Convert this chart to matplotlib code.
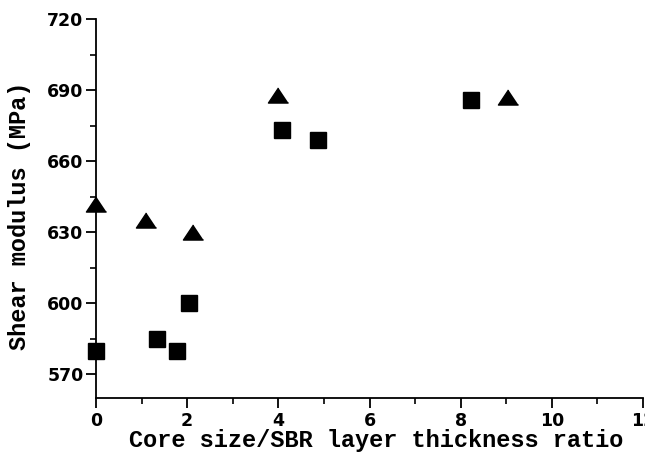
import matplotlib
matplotlib.use("Agg")
import matplotlib.pyplot as plt
from matplotlib.ticker import MultipleLocator

# Shear modulus versus core size / SBR layer thickness ratio
tri_x = [0.0, 1.09, 2.13, 4.0, 9.04]
tri_y = [642, 635, 630, 688, 687]
sq_x = [0.0, 1.33, 1.77, 2.03, 4.07, 4.86, 8.23]
sq_y = [580, 585, 580, 600, 673, 669, 686]

x_ticks = [0, 2, 4, 6, 8, 10, 12]
y_ticks = [570, 600, 630, 660, 690, 720]

fig = plt.figure(figsize=(6.45, 4.53), dpi=100)
ax = fig.add_axes([96 / 645, 1 - 398 / 453, 547 / 645, (398 - 19) / 453])

flat_tri = [(0, 0.75), (-1, -0.75), (1, -0.75)]
ax.plot(sq_x, sq_y, linestyle="none", marker="s", markersize=11.5,
        color="black", clip_on=False)
ax.plot(tri_x, tri_y, linestyle="none", marker=flat_tri, markersize=14.5,
        color="black", clip_on=False)

ax.set_xlim(0, 12)
ax.set_ylim(560, 720)
ax.set_xticks(x_ticks)
ax.set_yticks(y_ticks)
ax.xaxis.set_minor_locator(MultipleLocator(1))
ax.yaxis.set_minor_locator(MultipleLocator(15))

for side in ("top", "right"):
    ax.spines[side].set_visible(False)
for side in ("left", "bottom"):
    ax.spines[side].set_linewidth(1.3)

ax.tick_params(which="major", direction="out", length=7, width=1.3,
               labelsize=12.5)
ax.tick_params(which="minor", direction="out", length=4.5, width=1.2)
ax.tick_params(axis="x", which="major", pad=3)
ax.tick_params(axis="y", which="major", pad=2)
for lab in ax.get_xticklabels() + ax.get_yticklabels():
    lab.set_fontweight("bold")
    lab.set_family("DejaVu Sans")

fig.text(376 / 645, 1 - 447 / 453, "Core size/SBR layer thickness ratio",
         ha="center", va="baseline", fontsize=17, fontweight="bold",
         family="Liberation Mono")
fig.text(20 / 645, 1 - 216 / 453, "Shear modulus (MPa)",
         ha="center", va="center", rotation=90, fontsize=17,
         fontweight="bold", family="Liberation Mono")

fig.savefig("out.png", dpi=100)
